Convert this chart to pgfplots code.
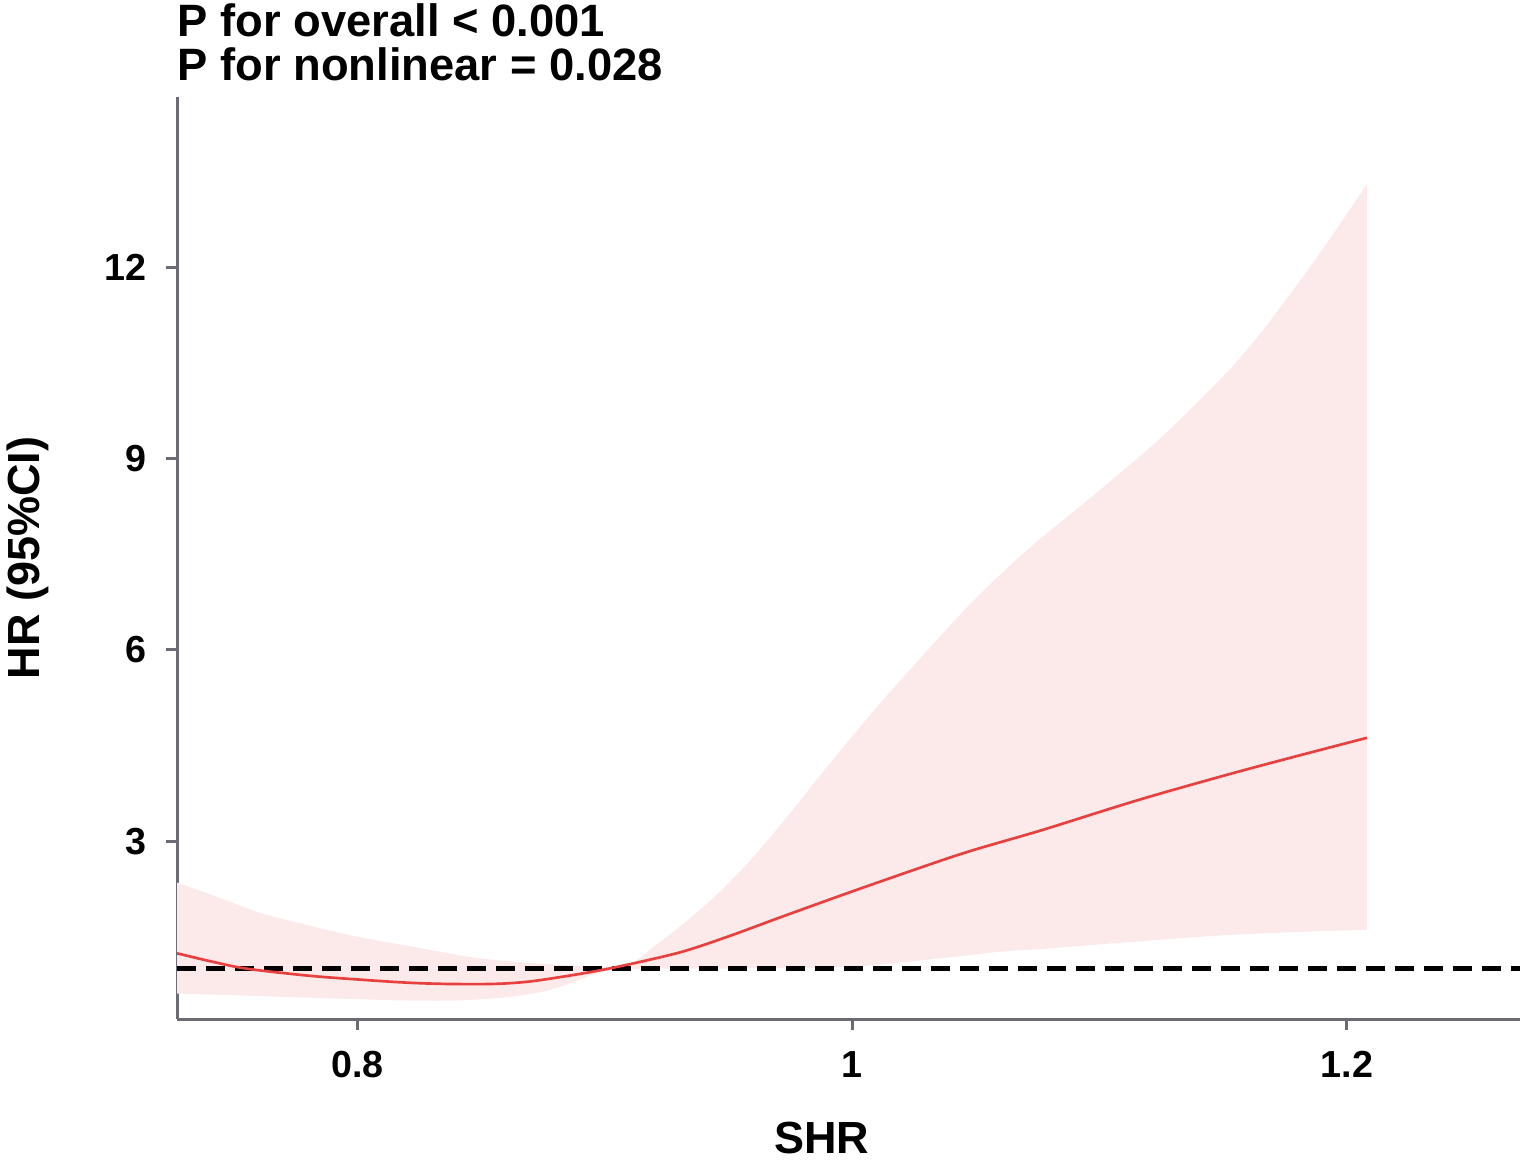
\documentclass[border=0pt]{standalone}
\usepackage{pgfplots}
\pgfplotsset{compat=1.18}
\usepgfplotslibrary{fillbetween}
\usetikzlibrary{calc}
\usepackage{fontspec}
\setmainfont{Liberation Sans}
\definecolor{axgray}{HTML}{6B6B73}
\definecolor{bandpink}{HTML}{FCEAEA}
\definecolor{linered}{HTML}{E8403F}
\begin{document}
\begin{tikzpicture}
\begin{axis}[
  name=ax,
  scale only axis,
  width=402.9pt, height=276.6pt,
  xmin=0.727, xmax=1.270,
  ymin=0.21, ymax=14.67,
  axis lines=left,
  axis line style={axgray, line width=0.9pt, -},
  every tick/.style={axgray, line width=0.9pt},
  tick align=outside,
  major tick length=3.2pt,
  xtick={0.8,1,1.2},
  xticklabels={0.8,1,1.2},
  ytick={3,6,9,12},
  /pgf/number format/assume math mode=true,
  tick label style={font=\fontsize{11.3pt}{13pt}\selectfont\bfseries},
  xticklabel style={yshift=-3pt},
  yticklabel style={xshift=-2.5pt},
  xlabel={SHR},
  ylabel={HR (95\%CI)},
  label style={font=\fontsize{13.5pt}{16pt}\selectfont\bfseries},
  xlabel style={at={(rel axis cs:0.48,0)}, anchor=north, yshift=-27.5pt},
  ylabel style={at={(rel axis cs:0,0.5)}, anchor=south, yshift=35pt},
  clip=true,
]
\addplot[name path=up, draw=none, smooth] coordinates {
 (0.727,2.35) (0.745,2.10) (0.76,1.88) (0.78,1.68) (0.80,1.50) (0.82,1.36)
 (0.846,1.18) (0.866,1.10) (0.886,1.05) (0.90,1.03) (0.9105,1.08)
 (0.920,1.35) (0.931,1.68) (0.945,2.15) (0.960,2.75) (0.9741,3.40) (0.9874,4.05)
 (1.0008,4.68) (1.0117,5.18) (1.0211,5.59) (1.0348,6.18) (1.0482,6.74) (1.0615,7.24)
 (1.0753,7.72) (1.0887,8.14) (1.1061,8.70) (1.1235,9.28) (1.1413,9.95) (1.155,10.50)
 (1.1684,11.13) (1.1887,12.20) (1.2081,13.30)
};
\addplot[name path=lo, draw=none, smooth] coordinates {
 (0.727,0.61) (0.76,0.57) (0.80,0.52) (0.82,0.50) (0.84,0.50) (0.86,0.55)
 (0.875,0.64) (0.886,0.77) (0.90,0.96) (0.92,1.00) (0.95,1.00) (1.0,1.03)
 (1.04,1.18) (1.061,1.27) (1.081,1.32) (1.10,1.38) (1.141,1.50) (1.17,1.56) (1.2081,1.61)
};
\addplot[bandpink, draw=none] fill between[of=up and lo];
\addplot[black, line width=1.5pt, dash pattern=on 5.7pt off 3pt] coordinates {(0.727,1) (1.270,1)};
\addplot[linered, line width=0.8pt, smooth] coordinates {
 (0.727,1.24) (0.74,1.12) (0.755,1.00) (0.78,0.89) (0.80,0.83) (0.82,0.78)
 (0.836,0.76) (0.855,0.76) (0.87,0.80) (0.8903,0.92) (0.9065,1.04) (0.9308,1.26)
 (0.951,1.52) (0.9713,1.81) (1.0036,2.26) (1.0441,2.80) (1.0765,3.17)
 (1.117,3.66) (1.16,4.13) (1.2081,4.62)
};
\end{axis}
\node[anchor=base west, inner sep=0pt, font=\fontsize{13.6pt}{16pt}\selectfont\bfseries] at ($(ax.north west)+(0,18pt)$) {P for overall < 0.001};
\node[anchor=base west, inner sep=0pt, font=\fontsize{13.6pt}{16pt}\selectfont\bfseries] at ($(ax.north west)+(0,5pt)$) {P for nonlinear = 0.028};
\pgfresetboundingbox
\path ($(ax.south west)+(-53.1pt,-42pt)$) rectangle ($(ax.north east)+(1.2pt,29.1pt)$);
\end{tikzpicture}
\end{document}
